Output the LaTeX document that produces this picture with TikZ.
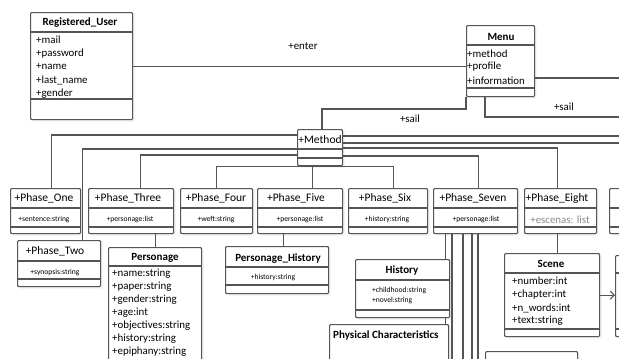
\documentclass[tikz,border=0pt]{standalone}
\usepackage{fontspec}
\setmainfont{Carlito}
\usetikzlibrary{arrows.meta,shadows}
\definecolor{lc}{HTML}{555555}
\definecolor{faint}{HTML}{8A8A8A}
\tikzset{
 box/.style={draw=lc, line width=1.1pt, fill=white, rounded corners=1pt, inner sep=0pt,
   drop shadow={opacity=0.12, shadow xshift=2pt, shadow yshift=-2pt}},
 conn/.style={draw=lc, line width=1.1pt},
 sepl/.style={draw=lc, line width=1.1pt},
 ttl/.style={font=\fontsize{11}{13}\selectfont\bfseries, inner sep=0pt},
 attr/.style={font=\fontsize{10.9}{13}\selectfont, inner sep=0pt, anchor=west},
 ph/.style={font=\fontsize{11.5}{13}\selectfont, inner sep=0pt},
 sm/.style={font=\fontsize{7.6}{9}\selectfont, inner sep=0pt},
 lbl/.style={font=\fontsize{10.9}{13}\selectfont, inner sep=0pt},
}
\newcommand\ubox[5]{%
 \pgfmathsetmacro\bw{#4-#2}\pgfmathsetmacro\bh{#5-#3}%
 \node[box, minimum width=\bw pt, minimum height=\bh pt, anchor=north west] (#1) at (#2,#3) {};}
\newcommand\sepat[2]{\draw[sepl] (#1.west |- 0,#2) -- (#1.east |- 0,#2);}
\begin{document}
\begin{tikzpicture}[x=1pt,y=-1pt]
\useasboundingbox (0,0) rectangle (619,359);
\clip (0,0) rectangle (619,359);

% ---------- coordinates for free ends ----------
\coordinate (mr) at (619,78);
\coordinate (sr) at (619,117);
\coordinate (c4) at (322,109);
\coordinate (r1) at (619,136);
\coordinate (r2) at (619,143);
\coordinate (b1) at (452,365);
\coordinate (b2) at (463,365);
\coordinate (b3) at (472,365);
\coordinate (b4) at (478,365);

% ---------- boxes ----------
\ubox{reg}{30}{12}{132}{119}
\ubox{menu}{466}{25}{534}{96}
\ubox{method}{297}{129}{342}{165}
\ubox{p1}{10}{188}{80}{233}
\ubox{p3}{88}{188}{173}{233}
\ubox{p4}{180}{188}{252}{233}
\ubox{p5}{257}{188}{342}{233}
\ubox{p6}{348}{188}{427}{233}
\ubox{p7}{433}{188}{517}{233}
\ubox{p8}{524}{188}{596}{233}
\ubox{p9}{609}{188}{650}{233}
\ubox{p2}{17}{240}{100}{286}
\ubox{pers}{108}{247}{201}{390}
\ubox{phist}{225}{246}{328}{293}
\ubox{hist}{355}{259}{449}{317}
\ubox{phys}{329}{324}{448}{390}
\ubox{scene}{504}{253}{599}{336}
\ubox{rbox}{615}{255}{650}{336}
\ubox{bbox}{485}{351}{577}{390}

% ---------- connectors ----------
\draw[conn] (reg.east) -- (reg.east -| menu.west);
\draw[conn] (menu.east |- mr) -- (mr);
\draw[conn] ([xshift=19pt]menu.south west) |- (sr);
\draw[conn] (menu.south west) |- (c4) -- (c4 |- method.north);
% left side of Method
\draw[conn] (method.west |- 0,135) -| ([xshift=6pt]p1.north);
\draw[conn] (method.west |- 0,149) -| ([xshift=23pt]p2.north);
\draw[conn] (method.west |- 0,155) -| ([xshift=9.5pt]p3.north);
\draw[conn] (p4.north) |- ([xshift=5.5pt]p6.north |- method.south) -- ([xshift=5.5pt]p6.north);
\draw[conn] ([xshift=-7.5pt]method.south) -- ([xshift=-7.5pt]method.south |- p5.north);
% right side of Method
\draw[conn] (method.east |- r1) -- (r1);
\draw[conn] (method.east |- r2) -- (r2);
\draw[conn] (method.east |- 0,148) -| ([xshift=-3pt]p8.north);
\draw[conn] (method.east |- 0,156) -| ([xshift=3pt]p7.north);
% lower connectors
\draw[conn] ([xshift=24.5pt]p3.south) -- ([xshift=24.5pt]p3.south |- pers.north);
\draw[conn] ([xshift=-16.5pt]p5.south) -- ([xshift=-16.5pt]p5.south |- phist.north);
\draw[conn] ([xshift=-3pt]p8.south) -- ([xshift=-3pt]p8.south |- scene.north);
\draw[conn] ([xshift=-30pt]p7.south) -- ([xshift=-30pt]p7.south |- hist.north);
\draw[conn] ([xshift=-30pt]p7.south |- hist.south) -- ([xshift=-30pt]p7.south |- phys.north);
\draw[conn] (p7.south -| b1) -- (b1);
\draw[conn] (p7.south -| b2) -- (b2);
\draw[conn] (p7.south -| b3) -- (b3);
\draw[conn] (p7.south -| b4) -- (b4);
\draw[conn, -{Straight Barb[length=4pt,width=8pt]}] (scene.east) -- (scene.east -| rbox.west);

% ---------- separators ----------
\sepat{reg}{32}\sepat{reg}{99}
\sepat{menu}{45}\sepat{menu}{88}
\sepat{method}{149}\sepat{method}{158}
\foreach \n in {p1,p3,p4,p5,p6,p7,p8,p9}{\sepat{\n}{208}\sepat{\n}{227}}
\sepat{p2}{261}\sepat{p2}{279}
\sepat{pers}{266}
\sepat{phist}{267}\sepat{phist}{285}
\sepat{hist}{280}\sepat{hist}{310}
\sepat{scene}{273}\sepat{scene}{329}
\sepat{rbox}{273}\sepat{rbox}{329}

% ---------- texts ----------
\node[ttl] (treg) at (80,23) {Registered\_User};
\node[attr] (a1) at (36,40) {+mail};
\node[attr] (a2) at (36,53.5) {+password};
\node[attr] (a3) at (36,67) {+name};
\node[attr] (a4) at (36,80.5) {+last\_name};
\node[attr] (a5) at (36,94) {+gender};

\node[ttl] (tmenu) at (501,37) {Menu};
\node[attr] (m1) at (467,53.5) {+method};
\node[attr] (m2) at (467,67) {+profile};
\node[attr] (m3) at (467,80.5) {+information};

\node[lbl] (lenter) at (303,46) {+enter};
\node[lbl] (lsail1) at (410,119) {+sail};
\node[lbl] (lsail2) at (564,107) {+sail};

\node[ph] (tmethod) at (320,140) {+Method};

\node[ph] (tp1) at (44,198) {+Phase\_One};
\node[ph] (tp3) at (128,198) {+Phase\_Three};
\node[ph] (tp4) at (216,198) {+Phase\_Four};
\node[ph] (tp5) at (296,198) {+Phase\_Five};
\node[ph] (tp6) at (385,198) {+Phase\_Six};
\node[ph] (tp7) at (473,198) {+Phase\_Seven};
\node[ph] (tp8) at (557,198) {+Phase\_Eight};
\node[ph] (tp2) at (55,251) {+Phase\_Two};

\node[sm] (s1) at (44,220) {+sentence:string};
\node[sm] (s3) at (130,220) {+personage:list};
\node[sm] (s4) at (216,220) {+weft:string};
\node[sm] (s5) at (300,220) {+personage:list};
\node[sm] (s6) at (387,220) {+history:string};
\node[sm] (s7) at (476,220) {+personage:list};
\node[lbl, text=faint] (s8) at (560,220) {+escenas: list};
\node[sm] (s2) at (55,273) {+synopsis:string};

\node[ttl] (tpers) at (155,258) {Personage};
\node[attr] (pa1) at (112,273.5) {+name:string};
\node[attr] (pa2) at (112,286.5) {+paper:string};
\node[attr] (pa3) at (112,299.5) {+gender:string};
\node[attr] (pa4) at (112,312.5) {+age:int};
\node[attr] (pa5) at (112,325.5) {+objectives:string};
\node[attr] (pa6) at (112,338.5) {+history:string};
\node[attr] (pa7) at (112,351.5) {+epiphany:string};

\node[ttl] (tphist) at (278,259) {Personage\_History};
\node[sm] (ph1) at (273,278) {+history:string};

\node[ttl] (thist) at (402,271) {History};
\node[sm, anchor=west] (h1) at (372,291) {+childhood:string};
\node[sm, anchor=west] (h2) at (372,301) {+novel:string};

\node[ttl, anchor=west] (tphys) at (333,335) {Physical Characteristics};

\node[ttl] (tscene) at (551,264) {Scene};
\node[attr] (sc1) at (512,281) {+number:int};
\node[attr] (sc2) at (512,294.5) {+chapter:int};
\node[attr] (sc3) at (512,308) {+n\_words:int};
\node[attr] (sc4) at (512,321) {+text:string};
\end{tikzpicture}
\end{document}
